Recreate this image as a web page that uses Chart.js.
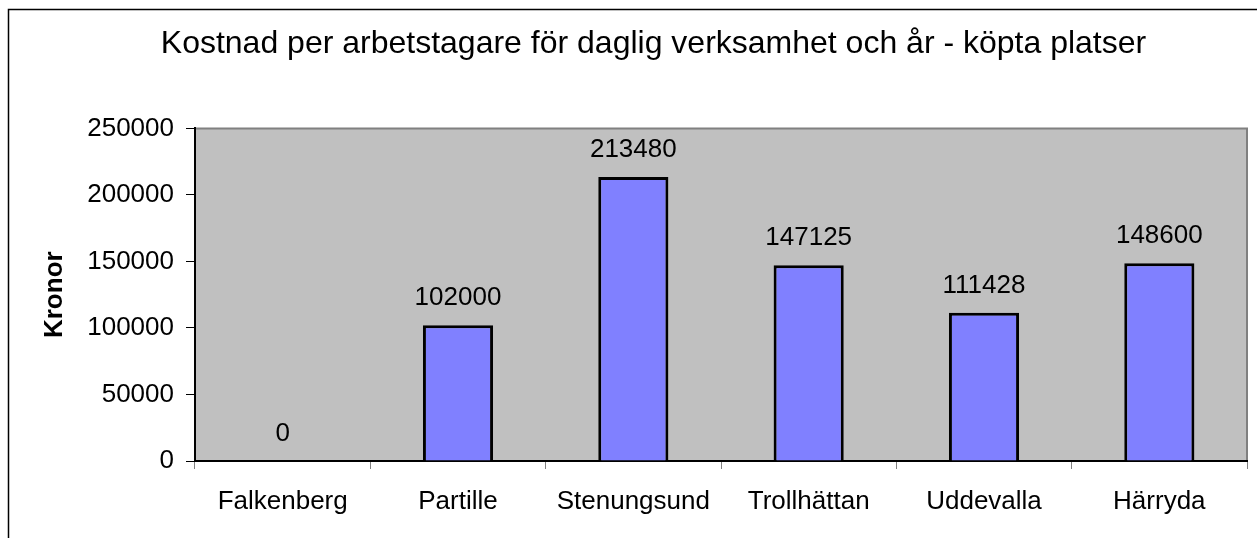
<!DOCTYPE html>
<html>
<head>
<meta charset="utf-8">
<script src="https://cdn.jsdelivr.net/npm/chart.js@4"></script>
<style>
    html, body { margin: 0; padding: 0; background: #fff; }
    #wrap { width: 1257px; height: 538px; }
</style>
</head>
<body>
<div id="wrap"><canvas id="grafico"></canvas></div>
<script>
// Data
const kommuner = ['Falkenberg', 'Partille', 'Stenungsund', 'Trollhättan', 'Uddevalla', 'Härryda'];
const kostnad = [0, 102000, 213480, 147125, 111428, 148600];
const yTicks = [0, 50000, 100000, 150000, 200000, 250000];

const FONT = "'Liberation Sans', Arial, sans-serif";

// Ram, grå bakgrund och värden ovanför staplarna
const ritaExtra = {
    id: 'ritaExtra',
    beforeDraw(chart) {
        const { ctx, chartArea: a } = chart;
        ctx.save();
        ctx.strokeStyle = '#000';
        ctx.lineWidth = 1.5;
        ctx.strokeRect(8.5, 9.5, 1400, 700);
        ctx.fillStyle = '#c0c0c0';
        ctx.fillRect(a.left, a.top, a.right - a.left, a.bottom - a.top);
        ctx.strokeStyle = '#808080';
        ctx.lineWidth = 2;
        ctx.beginPath();
        ctx.moveTo(a.left, a.top);
        ctx.lineTo(a.right, a.top);
        ctx.lineTo(a.right, a.bottom);
        ctx.stroke();
        ctx.restore();
    },
    afterDatasetsDraw(chart) {
        const { ctx } = chart;
        const meta = chart.getDatasetMeta(0);
        ctx.save();
        ctx.fillStyle = '#000';
        ctx.font = '26px ' + FONT;
        ctx.textAlign = 'center';
        ctx.textBaseline = 'alphabetic';
        meta.data.forEach((bar, i) => {
            ctx.fillText(String(kostnad[i]), bar.x, bar.y - 20);
        });
        ctx.restore();
    }
};

new Chart(document.getElementById('grafico'), {
    type: 'bar',
    data: {
        labels: kommuner,
        datasets: [{
            data: kostnad,
            backgroundColor: '#8080ff',
            borderColor: '#000',
            borderWidth: 3,
            categoryPercentage: 1,
            barPercentage: 0.4
        }]
    },
    options: {
        responsive: true,
        maintainAspectRatio: false,
        animation: false,
        layout: { padding: { left: 60, right: 10, top: 0, bottom: 0 } },
        plugins: {
            legend: { display: false },
            tooltip: { enabled: false },
            title: {
                display: true,
                text: 'Kostnad per arbetstagare för daglig verksamhet och år - köpta platser',
                color: '#000',
                font: { family: FONT, size: 32, weight: 'normal' },
                padding: { top: 25, bottom: 65 }
            }
        },
        scales: {
            x: {
                offset: true,
                grid: {
                    display: true,
                    offset: true,
                    drawOnChartArea: false,
                    color: '#808080',
                    tickColor: '#808080',
                    tickLength: 8
                },
                border: { display: true, color: '#000', width: 2 },
                ticks: {
                    color: '#000',
                    font: { family: FONT, size: 26 },
                    padding: 17,
                    maxRotation: 0
                },
                afterFit(scale) { scale.height = 77; }
            },
            y: {
                min: 0,
                max: 250000,
                afterBuildTicks(scale) { scale.ticks = yTicks.map(v => ({ value: v })); },
                grid: {
                    display: true,
                    drawOnChartArea: false,
                    color: '#000',
                    tickColor: '#000',
                    tickLength: 9
                },
                border: { display: true, color: '#000', width: 2 },
                ticks: {
                    color: '#000',
                    font: { family: FONT, size: 26 },
                    padding: 12,
                    callback: v => String(v)
                },
                title: {
                    display: true,
                    text: 'Kronor',
                    color: '#000',
                    font: { family: FONT, size: 26, weight: 'bold' },
                    padding: { top: -21, bottom: 0 }
                },
                afterFit(scale) { scale.width = 135; }
            }
        }
    },
    plugins: [ritaExtra]
});
</script>
</body>
</html>
